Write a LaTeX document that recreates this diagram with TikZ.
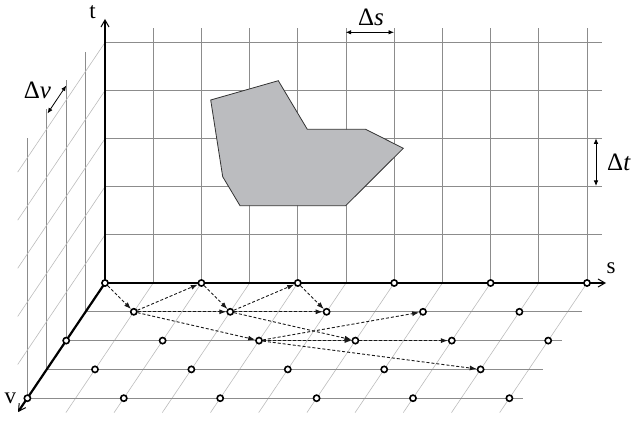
\documentclass[tikz,border=0pt]{standalone}
\usepackage{fontspec}
\setmainfont{Liberation Serif}
\usetikzlibrary{arrows.meta}
\definecolor{gridgray}{RGB}{140,140,140}
\definecolor{slantgray}{RGB}{188,188,188}
\definecolor{polyfill}{RGB}{187,188,191}
\begin{document}
\begin{tikzpicture}[x=1pt,y=-1pt,
  gridline/.style={draw=gridgray, line width=1pt},
  slantline/.style={draw=slantgray, line width=0.6pt},
  axis/.style={draw=black, line width=2.2pt},
  axtip/.style={-{Straight Barb[length=7pt,width=8pt,line width=1pt 0]}},
  sdot/.style={circle, draw=black, fill=white, line width=1.6pt, inner sep=0pt, minimum size=6.2pt},
  flow/.style={draw=black!90, line width=0.9pt, dash pattern=on 3pt off 2pt, -{Latex[length=7pt,width=5pt]}},
  dimarrow/.style={draw=black, line width=0.8pt, {Latex[length=5.5pt,width=4.5pt]}-{Latex[length=5.5pt,width=4.5pt]}},
  lbl/.style={font=\fontsize{23}{23}\selectfont, inner sep=0pt},
  dlbl/.style={font=\fontsize{25}{25}\selectfont, inner sep=0pt}]
\useasboundingbox (0,0) rectangle (632,422);
\coordinate (O) at (105,283);
% s-t plane grid
\foreach \k in {1,...,10} {
  \draw[gridline] ({105+48.2*\k},283) -- ({105+48.2*\k},28.3);
}
\foreach \k in {1,...,5} {
  \draw[gridline] (105,{283-48.1*\k}) -- (602,{283-48.1*\k});
}
% v-t plane
\foreach \j in {1,...,4} {
  \draw[gridline] ({105-19.4*\j},{283+28.8*\j}) -- ({105-19.4*\j},{23+28.7*\j});
}
\foreach \k in {1,...,5} {
  \draw[slantline] (105,{283-48.1*\k}) -- ++(-87.3,129.6);
}
% v-s plane
\foreach \k in {1,...,10} {
  \draw[slantline] ({105+48.2*\k},283) -- ++(-87.3,129.6);
}
\foreach \j in {1,...,4} {
  \draw[gridline] ({105-19.4*\j},{283+28.8*\j}) -- ++(496,0);
}
% object
\draw[fill=polyfill, draw=black!80, line width=0.8pt]
  (210.7,100) -- (278.3,80.7) -- (307.3,129.3) -- (365.7,129.3) -- (403.3,148.3)
  -- (345.7,205.7) -- (240,205.7) -- (222.7,176.7) -- cycle;
% axes
\coordinate (sTip) at (606,283);
\coordinate (tTip) at (105,19);
\coordinate (vTip) at (18,412);
\draw[axis, axtip] (O) -- (sTip);
\draw[axis, axtip] (O) -- (tTip);
\draw[axis, axtip] (O) -- (vTip);
% sample dots
\foreach \j in {0,...,4} {
  \foreach \i in {0,...,10} {
    \pgfmathtruncatemacro\pp{mod(\i+\j,2)}
    \ifnum\pp=0
      \node[sdot] (d\i-\j) at ({105+48.2*\i-19.4*\j},{283+28.8*\j}) {};
    \fi
  }
}
% dashed flow arrows
\draw[flow] (d0-0) -- (d1-1);
\draw[flow] (d1-1) -- (d2-0);
\draw[flow] (d1-1) -- (d3-1);
\draw[flow] (d1-1) -- (d4-2);
\draw[flow] (d2-0) -- (d3-1);
\draw[flow] (d3-1) -- (d4-0);
\draw[flow] (d3-1) -- (d5-1);
\draw[flow] (d3-1) -- (d6-2);
\draw[flow] (d4-0) -- (d5-1);
\draw[flow] (d4-2) -- (d6-2);
\draw[flow] (d4-2) -- (d7-1);
\draw[flow] (d4-2) -- (d9-3);
\draw[flow] (d6-2) -- (d8-2);
% labels
\node[lbl] (tl) at (92.5,12) {t};
\node[lbl] (sl) at (611,268) {s};
\node[lbl] (vl) at (10.5,398.5) {v};
\node[dlbl] (dvl) at (37.5,90) {Δ\textit{v}};
\node[dlbl] (dsl) at (371,17.5) {Δ\textit{s}};
\node[dlbl] (dtl) at (619,162.5) {Δ\textit{t}};
% dimension arrows
\coordinate (ds1) at (345.7,32.3);
\coordinate (ds2) at (394,32.3);
\coordinate (dt1) at (596,138.3);
\coordinate (dt2) at (596,186);
\coordinate (dv1) at (47.5,113.5);
\coordinate (dv2) at (66.3,85.5);
\draw[dimarrow] (ds1) -- (ds2);
\draw[dimarrow] (dt1) -- (dt2);
\draw[dimarrow] (dv1) -- (dv2);
\end{tikzpicture}
\end{document}
